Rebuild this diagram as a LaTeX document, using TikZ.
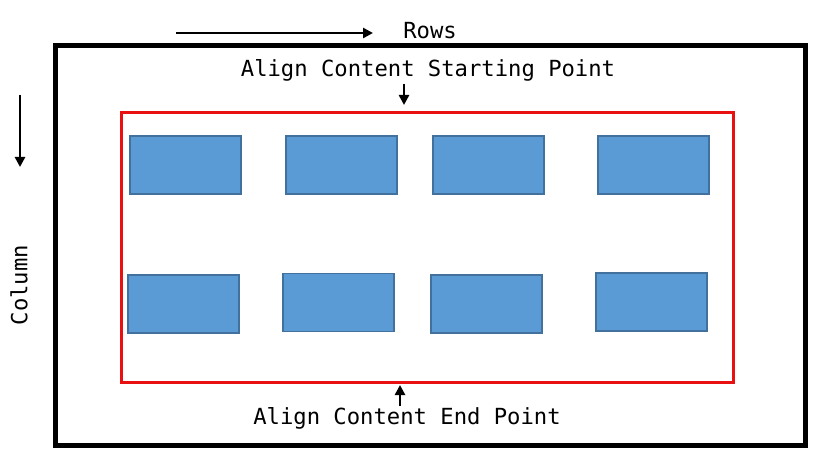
\documentclass[tikz,border=0pt]{standalone}
\usepackage{fontspec}
\setmonofont{DejaVu Sans Mono}
\usetikzlibrary{arrows.meta}
\definecolor{boxfill}{HTML}{5B9BD5}
\definecolor{boxline}{HTML}{41719C}
\definecolor{redline}{HTML}{E81010}
\begin{document}
\begin{tikzpicture}[x=1pt,y=-1pt,
  item/.style={draw=boxline,line width=1.3pt,fill=boxfill,minimum width=111pt,minimum height=58pt,inner sep=0pt},
  lbl/.style={font=\ttfamily\fontsize{22.2}{25}\selectfont,inner sep=0pt},
  arr/.style={line width=2.5pt,-{Triangle[length=10pt,width=10pt]}}]
\useasboundingbox (0,0) rectangle (826,465);
% outer container
\draw[line width=5pt] (55,46) rectangle (805,445);
% red align-content region
\draw[redline,line width=3pt] (121,113) rectangle (733,382);
% items row 1
\node[item] (a1) at (185.5,165) {};
\node[item] (a2) at (341.5,165) {};
\node[item] (a3) at (488.5,165) {};
\node[item] (a4) at (653.5,165) {};
% items row 2
\node[item] (b1) at (183.5,304) {};
\node[item] (b2) at (338.5,302.5) {};
\node[item] (b3) at (486.5,304) {};
\node[item] (b4) at (651.5,302) {};
% labels
\node[lbl] (rows) at (430,31) {Rows};
\node[lbl] (start) at (428,70) {Align Content Starting Point};
\node[lbl] (end) at (407,418) {Align Content End Point};
\node[lbl,rotate=90] (col) at (19,285) {Column};
% arrows
\coordinate (r0) at (176,33);
\coordinate (r1) at (373,33);
\draw[arr] (r0) -- (r1);
\coordinate (c0) at (20,95);
\coordinate (c1) at (20,167);
\draw[arr] (c0) -- (c1);
\coordinate (s0) at (404,84);
\coordinate (s1) at (404,105);
\draw[arr] (s0) -- (s1);
\coordinate (e0) at (400,406);
\coordinate (e1) at (400,385);
\draw[arr] (e0) -- (e1);
\end{tikzpicture}
\end{document}
